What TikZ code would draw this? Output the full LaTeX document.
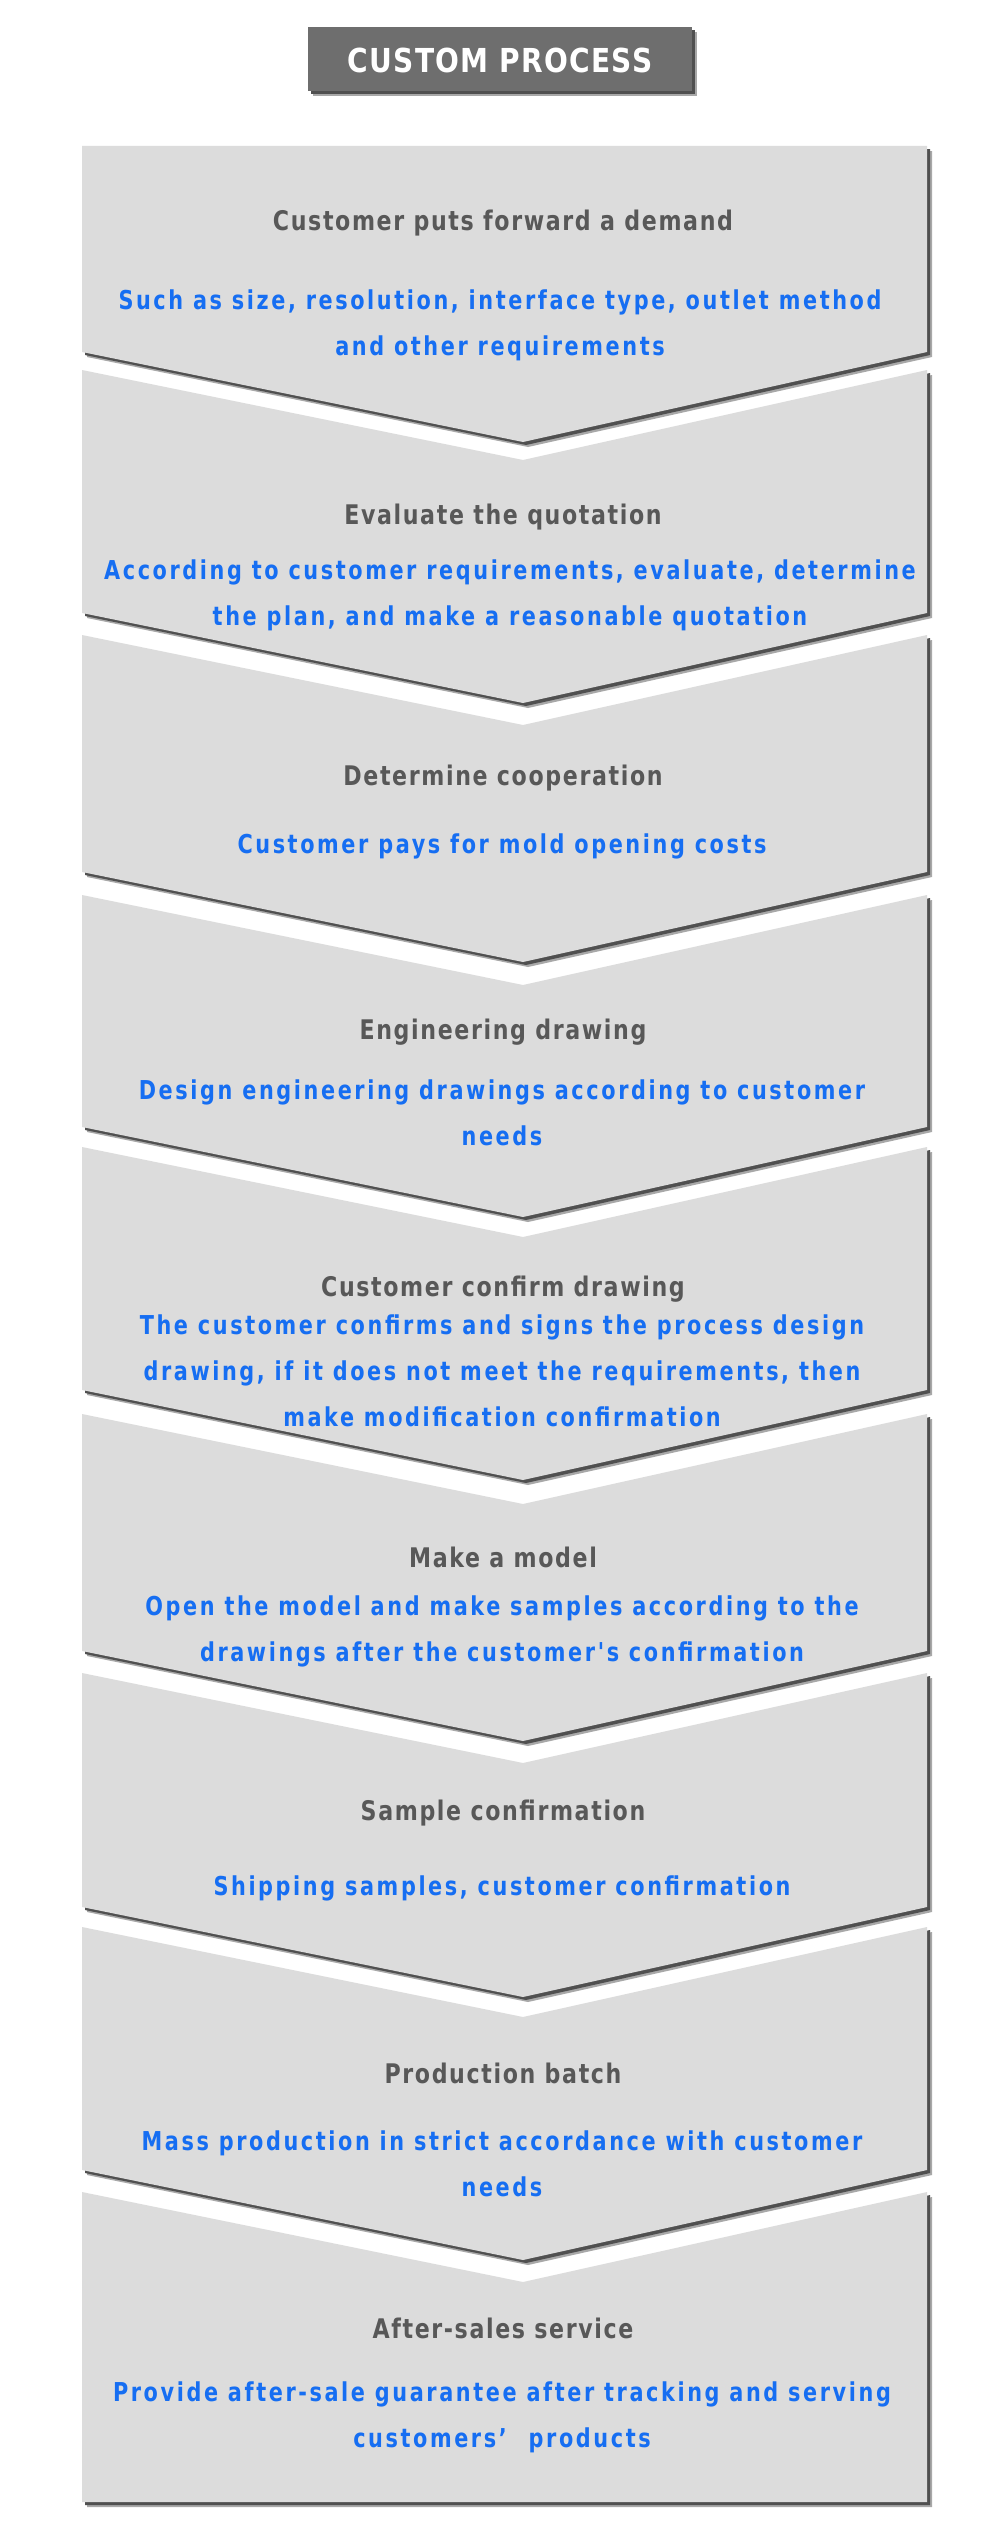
\documentclass[tikz,border=0pt]{standalone}
\usepackage{fontspec}
\newfontfamily\headfont[FakeStretch=0.82,LetterSpace=6]{DejaVu Sans Bold}
\newfontfamily\descfont[FakeStretch=0.8,LetterSpace=10]{DejaVu Sans Bold}
\newfontfamily\bannerfont[FakeStretch=0.85,LetterSpace=4]{DejaVu Sans Bold}
\definecolor{boxfill}{HTML}{DCDCDC}
\definecolor{shadowdark}{HTML}{505050}
\definecolor{shadowlight}{HTML}{A8A8A8}
\definecolor{headcol}{HTML}{585858}
\definecolor{desccol}{HTML}{166EF2}
\definecolor{bannerfill}{HTML}{6E6E6E}
\tikzset{
  headtext/.style={font=\headfont\fontsize{27}{30}\selectfont, text=headcol, inner sep=0pt},
  desctext/.style={font=\descfont\fontsize{26}{46}\selectfont, text=desccol, align=center, inner sep=0pt},
}
% #1 top, #2 side bottom, #3 1 if notched top
\newcommand\chevshape[3]{%
  \ifnum#3=1
    (82,#1) -- (523,#1+90) -- (927,#1)
  \else
    (82,#1) -- (927,#1)
  \fi
  -- (927,#2) -- (523,#2+90) -- (82,#2) -- cycle}
\newcommand\chevbox[3]{%
  \fill[shadowlight] [shift={(5,5)}] \chevshape{#1}{#2}{#3};
  \fill[shadowdark] [shift={(3,3)}] \chevshape{#1}{#2}{#3};
  \fill[boxfill] \chevshape{#1}{#2}{#3};
}
\begin{document}
\begin{tikzpicture}[x=1pt,y=-1pt]
\useasboundingbox (0,0) rectangle (1000,2545);
\fill[white] (0,0) rectangle (1000,2545);

% banner
\fill[shadowlight] (313,32) rectangle (697,96);
\fill[shadowdark] (311,30) rectangle (695,94);
\fill[bannerfill] (308,27) rectangle (692,91);
\node[font=\bannerfont\fontsize{33}{36}\selectfont, text=white, inner sep=0pt] (banner) at (500,60) {CUSTOM PROCESS};

% boxes
\chevbox{146}{352}{0}
\chevbox{370}{613}{1}
\chevbox{635}{872}{1}
\chevbox{895}{1127}{1}
\chevbox{1147}{1390}{1}
\chevbox{1414}{1651}{1}
\chevbox{1673}{1907}{1}
\chevbox{1927}{2170}{1}
% last box: flat bottom
\fill[shadowlight] [shift={(5,5)}] (82,2192) -- (523,2282) -- (927,2192) -- (927,2502) -- (82,2502) -- cycle;
\fill[shadowdark] [shift={(3,3)}] (82,2192) -- (523,2282) -- (927,2192) -- (927,2502) -- (82,2502) -- cycle;
\fill[boxfill] (82,2192) -- (523,2282) -- (927,2192) -- (927,2502) -- (82,2502) -- cycle;

% texts
\node[headtext] (h1) at (503,223) {Customer puts forward a demand};
\node[desctext] (d1) at (500,325) {Such as size, resolution, interface type, outlet method\\and other requirements};

\node[headtext] (h2) at (503,517) {Evaluate the quotation};
\node[desctext] (d2) at (510,595) {According to customer requirements, evaluate, determine\\the plan, and make a reasonable quotation};

\node[headtext] (h3) at (503,778) {Determine cooperation};
\node[desctext] (d3) at (502,846) {Customer pays for mold opening costs};

\node[headtext] (h4) at (503,1032) {Engineering drawing};
\node[desctext] (d4) at (502,1113) {Design engineering drawings according to customer\\needs};

\node[headtext] (h5) at (503,1289) {Customer confirm drawing};
\node[desctext] (d5) at (502,1371) {The customer confirms and signs the process design\\drawing, if it does not meet the requirements, then\\make modification confirmation};

\node[headtext] (h6) at (503,1557) {Make a model};
\node[desctext] (d6) at (502,1631) {Open the model and make samples according to the\\drawings after the customer's confirmation};

\node[headtext] (h7) at (503,1813) {Sample confirmation};
\node[desctext] (d7) at (502,1888) {Shipping samples, customer confirmation};

\node[headtext] (h8) at (503,2073) {Production batch};
\node[desctext] (d8) at (502,2164) {Mass production in strict accordance with customer\\needs};

\node[headtext] (h9) at (503,2328) {After-sales service};
\node[desctext] (d9) at (502,2417) {Provide after-sale guarantee after tracking and serving\\customers’\hspace{22pt}products};
\end{tikzpicture}
\end{document}
